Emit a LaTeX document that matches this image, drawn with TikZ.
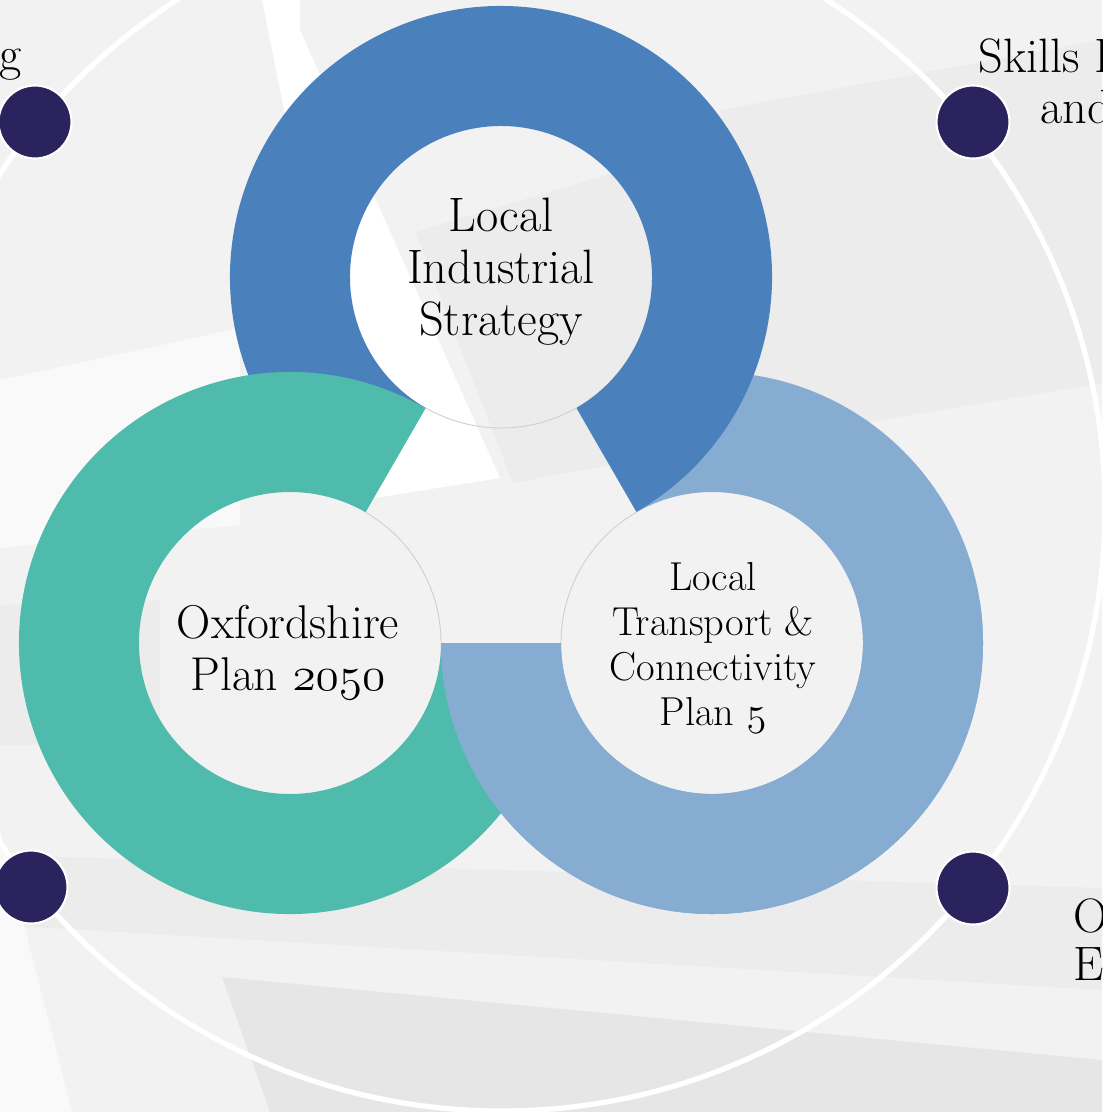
\documentclass[tikz,border=0pt]{standalone}
\usepackage{fix-cm}
\usepackage{fontspec}

\definecolor{lisblue}{HTML}{4A81BD}
\definecolor{oxpteal}{HTML}{4EBBAD}
\definecolor{ltcblue}{HTML}{87ACD2}
\definecolor{hubnavy}{HTML}{2A235D}
\definecolor{rimgray}{HTML}{D3CEC4}
\definecolor{bgbase}{HTML}{F2F2F2}
\definecolor{bglight}{HTML}{F9F9F9}
\definecolor{bgmid}{HTML}{ECECEC}
\definecolor{bgdeep}{HTML}{E6E6E6}

\newcommand\osfig[1]{{\usefont{OML}{cmm}{m}{it}#1}}

\tikzset{
  ringtext/.style={align=center, inner sep=0pt, text=black},
  outertext/.style={inner sep=0pt, text=black, font=\fontsize{27.5}{29}\selectfont},
  hub/.style={circle, fill=hubnavy, draw=white, line width=1.2pt, minimum size=1.46cm, inner sep=0pt},
  rim/.style={draw=rimgray, line width=0.5pt},
  orbit/.style={draw=white, line width=3pt},
}

\begin{document}
\begin{tikzpicture}[x=0.02cm, y=0.02cm]
            \useasboundingbox (0,0) rectangle (1102,-1112);
            \clip (0,0) rectangle (1102,-1112);

            % background panels
            \fill[bgbase] (0,0) rectangle (1102,-1112);
            \fill[white] (262,0) -- (300,0) -- (300,-30) -- (500,-478) -- (362,-500) -- cycle;
            \fill[bgmid] (415,-232) -- (640,-165) -- (700,-448) -- (513,-483) -- cycle;
            \fill[bgmid] (720,-110) -- (1102,-40) -- (1102,-383) -- (760,-440) -- cycle;
            \fill[bglight] (0,-380) -- (240,-328) -- (240,-525) -- (0,-548) -- cycle;
            \fill[bgmid] (0,-605) -- (160,-600) -- (160,-745) -- (0,-745) -- cycle;
            \fill[bgmid] (0,-855) -- (1102,-888) -- (1102,-990) -- (0,-925) -- cycle;
            \fill[bgdeep] (222,-977) -- (700,-1022) -- (1102,-1060) -- (1102,-1112) -- (270,-1112) -- cycle;
            \fill[bglight] (0,-830) -- (72,-1112) -- (0,-1112) -- cycle;

            \coordinate (lis) at (501,-277);
            \coordinate (oxp) at (290,-643);
            \coordinate (ltc) at (712,-643);

            \draw[orbit] (502,-508) circle[radius=603];

            % rings, 300 degrees each
            \fill[ltcblue] (ltc) ++(180:271) arc[start angle=180, end angle=480, radius=271]
                -- ++(120:-120) arc[start angle=480, end angle=180, radius=151] -- cycle;
            \fill[lisblue] (lis) ++(-60:271) arc[start angle=-60, end angle=240, radius=271]
                -- ++(240:-120) arc[start angle=240, end angle=-60, radius=151] -- cycle;
            \fill[oxpteal] (oxp) ++(60:271) arc[start angle=60, end angle=360, radius=271]
                -- ++(0:-120) arc[start angle=360, end angle=60, radius=151] -- cycle;
            \begin{scope}
                \clip (0,-600) rectangle (1102,-1112);
                \fill[ltcblue] (ltc) ++(180:271) arc[start angle=180, end angle=480, radius=271]
                    -- ++(120:-120) arc[start angle=480, end angle=180, radius=151] -- cycle;
            \end{scope}

            \draw[rim] (lis) ++(240:151) arc[start angle=240, end angle=300, radius=151];
            \draw[rim] (oxp) ++(0:151) arc[start angle=0, end angle=60, radius=151];
            \draw[rim] (ltc) ++(120:151) arc[start angle=120, end angle=180, radius=151];

            \node[ringtext, font=\fontsize{27.5}{29.6}\selectfont] (lisT) at (501,-272) {Local\\Industrial\\Strategy};
            \node[ringtext, font=\fontsize{27}{29.6}\selectfont] (oxpT) at (288,-652) {Oxfordshire\\Plan \osfig{2050}};
            \node[ringtext, font=\fontsize{23}{25.6}\selectfont] (ltcT) at (713,-648) {Local\\Transport \&\\Connectivity\\Plan \osfig{5}};

            % hubs on the orbit
            \node[hub] (hubNW) at (35,-122) {};
            \node[hub] (hubNE) at (973,-122) {};
            \node[hub] (hubSW) at (31,-887) {};
            \node[hub] (hubSE) at (973,-888) {};

            \node[outertext, anchor=base east] (nwT) at (22,-70) {g};
            \node[outertext, anchor=base west] (neT) at (978,-72) {Skills E};
            \node[outertext, anchor=base west] (neT2) at (1040,-123) {and};
            \node[outertext, anchor=base west] (seT) at (1073,-932) {O};
            \node[outertext, anchor=base west] (seT2) at (1073,-980) {E};
\end{tikzpicture}
\end{document}
